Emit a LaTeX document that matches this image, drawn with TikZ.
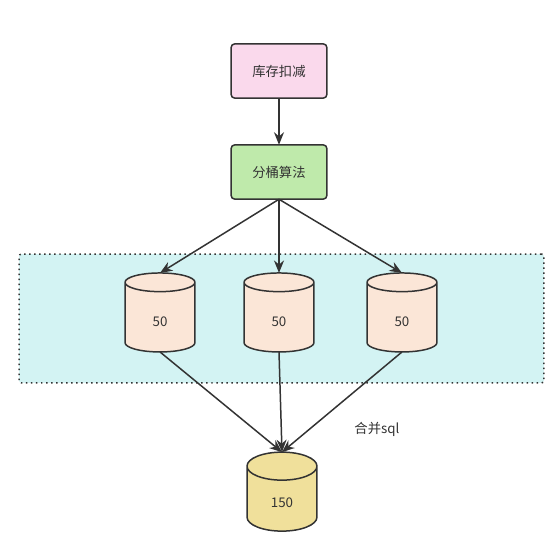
\documentclass[tikz,border=0pt]{standalone}
\usepackage{fontspec}
\setmainfont{Noto Sans CJK SC}
\usetikzlibrary{shapes.geometric, arrows.meta}
\definecolor{linegray}{HTML}{333333}
\definecolor{pinkfill}{HTML}{FAD9EC}
\definecolor{greenfill}{HTML}{BFEAAB}
\definecolor{peachfill}{HTML}{FBE6D7}
\definecolor{tealfill}{HTML}{D3F3F3}
\definecolor{yellowfill}{HTML}{F0E09B}
\tikzset{
  label text/.style={font=\fontsize{7.6}{9}\selectfont, text=black!80},
  stepbox/.style={draw=linegray, line width=0.85pt, rounded corners=0.08cm, minimum width=1.92cm, minimum height=1.09cm, outer sep=0pt, label text},
  bucket/.style={shape=cylinder, shape border rotate=90, aspect=1.26, draw=linegray, line width=0.85pt, minimum width=1.4cm, minimum height=1.58cm, outer sep=0pt, inner sep=0pt, text height=0.35cm, text depth=0cm, label text},
  arrowline/.style={draw=linegray, line width=0.85pt, -{Stealth[length=0.25cm, width=0.2cm]}}
}

\begin{document}
\begin{tikzpicture}[x=0.02cm, y=-0.02cm]
\useasboundingbox (0,0) rectangle (559,548);

% Dotted tier behind the three buckets
\node[draw=linegray, dotted, line width=0.85pt, fill=tealfill, rounded corners=0.05cm, minimum width=10.5cm, minimum height=2.58cm, outer sep=0pt] (tier) at (281.5,318.5) {};

% Top boxes
\node[stepbox, fill=pinkfill] (deduct) at (279,71) {库存扣减};
\node[stepbox, fill=greenfill] (split) at (279,172) {分桶算法};

% Buckets
\node[bucket, fill=peachfill] (bucketa) at (160,317.5) {50};
\node[bucket, fill=peachfill] (bucketb) at (279,317.5) {50};
\node[bucket, fill=peachfill] (bucketc) at (402,317.5) {50};
\node[bucket, fill=yellowfill] (total) at (282,499) {150};

% Label
\node[label text] (merge) at (377,429) {合并sql};

% Arrows
\draw[arrowline] (deduct.south) -- (split.north);
\draw[arrowline] (split.south) -- (bucketa.top);
\draw[arrowline] (split.south) -- (bucketb.top);
\draw[arrowline] (split.south) -- (bucketc.top);
\draw[arrowline] (bucketa.bottom) -- (total.top);
\draw[arrowline] (bucketb.bottom) -- (total.top);
\draw[arrowline] (bucketc.bottom) -- (total.top);

\end{tikzpicture}
\end{document}
